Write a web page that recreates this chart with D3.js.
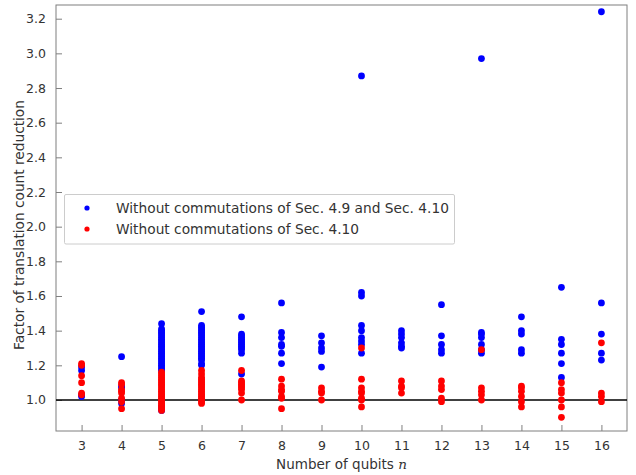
<!DOCTYPE html>
<html>
<head>
<meta charset="utf-8">
<script src="https://cdn.jsdelivr.net/npm/d3@7"></script>
<style>
  html, body { margin: 0; padding: 0; background: #fff; }
  svg { display: block; }
  text { font-family: "DejaVu Sans", sans-serif; fill: #333; }
</style>
</head>
<body>
<svg id="chart" width="636" height="475"></svg>
<script>
// Number of qubits on the x axis
const qubitCounts = [3, 4, 5, 6, 7, 8, 9, 10, 11, 12, 13, 14, 15, 16];

// Reduction factors without the commutations of Sec. 4.9 and Sec. 4.10 (blue)
const withoutBoth = [
  [3, [1.19, 1.17, 1.03, 1.02]],
  [4, [1.25, 1.08, 1.07, 1.00, 0.98]],
  [5, [1.44, 1.41, 1.40, 1.39, 1.38, 1.37, 1.36, 1.35, 1.34, 1.33, 1.32, 1.31, 1.30, 1.29, 1.28,
       1.27, 1.26, 1.25, 1.24, 1.23, 1.22, 1.21, 1.20, 1.19, 1.18, 1.17, 0.96, 0.94]],
  [6, [1.51, 1.43, 1.42, 1.41, 1.40, 1.39, 1.38, 1.37, 1.36, 1.35, 1.34, 1.33, 1.32, 1.31, 1.30,
       1.29, 1.28, 1.27, 1.26, 1.25, 1.24, 1.23, 1.21, 1.20]],
  [7, [1.48, 1.38, 1.37, 1.36, 1.35, 1.34, 1.33, 1.32, 1.31, 1.30, 1.29, 1.27, 1.15]],
  [8, [1.56, 1.39, 1.36, 1.32, 1.31, 1.27, 1.21]],
  [9, [1.37, 1.33, 1.30, 1.28, 1.19]],
  [10, [2.87, 1.62, 1.60, 1.43, 1.40, 1.36, 1.34, 1.32, 1.27]],
  [11, [1.40, 1.38, 1.36, 1.33, 1.31, 1.30]],
  [12, [1.55, 1.37, 1.32, 1.29, 1.27]],
  [13, [2.97, 1.39, 1.38, 1.36, 1.32, 1.29, 1.27]],
  [14, [1.48, 1.40, 1.38, 1.29, 1.27]],
  [15, [1.65, 1.35, 1.32, 1.27, 1.21, 1.13]],
  [16, [3.24, 1.56, 1.38, 1.27, 1.23]]
];

// Reduction factors without the commutations of Sec. 4.10 only (red)
const withoutSec410 = [
  [3, [1.21, 1.20, 1.14, 1.10, 1.04, 1.03]],
  [4, [1.10, 1.09, 1.06, 1.05, 1.04, 1.01, 0.99, 0.95]],
  [5, [1.16, 1.15, 1.14, 1.13, 1.12, 1.11, 1.10, 1.09, 1.08, 1.07, 1.06, 1.05, 1.04, 1.03, 1.02,
       1.01, 1.00, 0.99, 0.98, 0.97, 0.96, 0.95, 0.94]],
  [6, [1.17, 1.15, 1.13, 1.12, 1.11, 1.10, 1.09, 1.08, 1.07, 1.06, 1.05, 1.04, 1.03, 1.02, 1.01,
       1.00, 0.99, 0.98]],
  [7, [1.17, 1.11, 1.10, 1.09, 1.08, 1.07, 1.06, 1.04, 1.00]],
  [8, [1.12, 1.08, 1.06, 1.05, 1.02, 1.01, 0.95]],
  [9, [1.07, 1.05, 1.04, 1.00]],
  [10, [1.30, 1.12, 1.07, 1.05, 1.04, 1.01, 1.00, 0.96]],
  [11, [1.11, 1.08, 1.07, 1.04]],
  [12, [1.11, 1.08, 1.06, 1.01, 0.99]],
  [13, [1.29, 1.07, 1.05, 1.03, 1.00]],
  [14, [1.08, 1.07, 1.05, 1.02, 0.99, 0.96]],
  [15, [1.10, 1.06, 1.04, 1.00, 0.96, 0.90]],
  [16, [1.33, 1.04, 1.02, 0.99]]
];

const yTickValues = [1.0, 1.2, 1.4, 1.6, 1.8, 2.0, 2.2, 2.4, 2.6, 2.8, 3.0, 3.2];
const seriesLabels = [
  "Without commutations of Sec. 4.9 and Sec. 4.10",
  "Without commutations of Sec. 4.10"
];
const seriesColors = ["#0000ff", "#ff0000"];

const svg = d3.select("#chart");
const plot = { left: 56, right: 627, top: 5, bottom: 431 };

const x = d3.scaleLinear().domain([2.36, 16.64]).range([plot.left, plot.right]);
const y = d3.scaleLinear().domain([0.821, 3.279]).range([plot.bottom, plot.top]);

const spineColor = "#7f7f7f";

// Scale a text's font size so that it spans the wanted width
function fitWidth(sel, target) {
  const size = parseFloat(sel.attr("font-size"));
  const w = sel.node().getComputedTextLength();
  if (w > 0) sel.attr("font-size", (size * target / w).toFixed(2));
}

// Axes (ticks drawn inward)
const xAxis = svg.append("g")
  .attr("transform", `translate(0,${plot.bottom})`)
  .call(d3.axisBottom(x).tickValues(qubitCounts).tickFormat(d3.format("d"))
    .tickSizeInner(-6).tickSizeOuter(0).tickPadding(10));
const yAxis = svg.append("g")
  .attr("transform", `translate(${plot.left},0)`)
  .call(d3.axisLeft(y).tickValues(yTickValues).tickFormat(d3.format(".1f"))
    .tickSizeInner(-6).tickSizeOuter(0).tickPadding(10));
[xAxis, yAxis].forEach(g => {
  g.select(".domain").remove();
  g.selectAll(".tick line").attr("stroke", spineColor).attr("stroke-width", 1);
  g.selectAll(".tick text").attr("font-size", 12.5).attr("fill", "#333")
    .attr("font-family", "'DejaVu Sans', sans-serif");
});

// Frame
svg.append("rect")
  .attr("x", plot.left).attr("y", plot.top)
  .attr("width", plot.right - plot.left).attr("height", plot.bottom - plot.top)
  .attr("fill", "none").attr("stroke", spineColor).attr("stroke-width", 1);

// Reference line at factor 1
svg.append("line")
  .attr("x1", plot.left).attr("x2", plot.right)
  .attr("y1", y(1)).attr("y2", y(1))
  .attr("stroke", "#000").attr("stroke-width", 1.4);

// Scatter points: blue series first, red drawn on top
const flatten = series => series.flatMap(([n, vals]) => vals.map(v => ({ n, v })));
[withoutBoth, withoutSec410].forEach((series, i) => {
  svg.append("g").selectAll("circle")
    .data(flatten(series))
    .join("circle")
    .attr("cx", d => x(d.n))
    .attr("cy", d => y(d.v))
    .attr("r", 3.4)
    .attr("fill", seriesColors[i]);
});

// Legend
const legend = svg.append("g");
legend.append("rect")
  .attr("x", 64.5).attr("y", 194.5).attr("width", 390).attr("height", 49.5)
  .attr("rx", 1.5)
  .attr("fill", "#fff").attr("stroke", "#cccccc").attr("stroke-width", 1);
const legendTexts = seriesLabels.map((label, i) => {
  const cy = 208 + i * 21;
  legend.append("circle").attr("cx", 87).attr("cy", cy).attr("r", 2.6).attr("fill", seriesColors[i]);
  return legend.append("text").attr("x", 116).attr("y", cy + 4.8)
    .attr("font-size", 12.5).text(label);
});
fitWidth(legendTexts[0], 333);
legendTexts[1].attr("font-size", legendTexts[0].attr("font-size"));

// Axis titles
const xTitle = svg.append("text")
  .attr("x", (plot.left + plot.right) / 2).attr("y", 469)
  .attr("text-anchor", "middle").attr("font-size", 12);
xTitle.append("tspan").text("Number of qubits ");
xTitle.append("tspan").attr("font-style", "italic")
  .attr("font-family", "'DejaVu Serif', serif").text("n");
fitWidth(xTitle, 131);

const yTitle = svg.append("text")
  .attr("transform", `translate(24,${(plot.top + plot.bottom) / 2 + 7}) rotate(-90)`)
  .attr("text-anchor", "middle").attr("font-size", 12)
  .text("Factor of translation count reduction");
fitWidth(yTitle, 250);
</script>
</body>
</html>
